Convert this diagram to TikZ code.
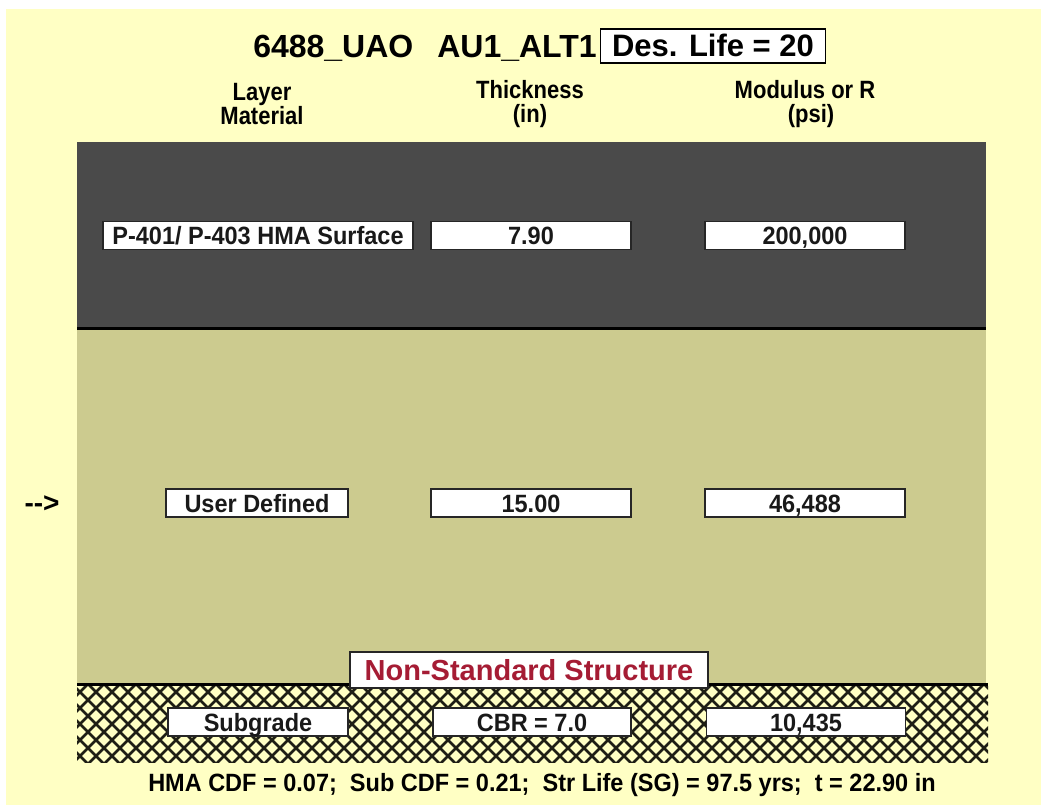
\documentclass[tikz,border=0pt]{standalone}
\usepackage{fontspec}
\setmainfont{Liberation Sans}
\newfontfamily\narrow[FakeStretch=0.94]{Liberation Sans}
\newfontfamily\hnarrow[FakeStretch=0.88]{Liberation Sans}
\definecolor{bgyellow}{RGB}{255,255,196}
\definecolor{darklayer}{RGB}{74,74,74}
\definecolor{khaki}{RGB}{204,203,143}
\definecolor{redtxt}{RGB}{165,28,52}
\definecolor{hatchc}{RGB}{30,30,20}
\tikzset{
  valbox/.style={draw=black!85, line width=1.5pt, fill=white, minimum height=28pt, inner sep=0pt,
    text height=18pt, text depth=0pt,
    font=\narrow\bfseries\fontsize{25}{25}\selectfont, text=black!90},
  hdr/.style={align=center, font=\hnarrow\bfseries\fontsize{25}{24}\selectfont},
  hatchline/.style={draw=hatchc, line width=2.6pt},
  sepline/.style={line width=3pt, draw=black}
}
\begin{document}
\begin{tikzpicture}[x=1pt,y=-1pt]
\useasboundingbox (0,0) rectangle (1041,805);
\fill[white] (0,0) rectangle (1041,805);
\fill[bgyellow] (6,9) rectangle (1041,805);
% layers
\fill[darklayer] (77,142) rectangle (986,328);
\fill[khaki] (77,328) rectangle (986,683);
\begin{scope}
  \clip (77,684) rectangle (988,762);
  \foreach \i in {-120,-104,...,1120} {
    \draw[hatchline] (\i,684) -- ++(100,100);
    \draw[hatchline] (\i,684) -- ++(-100,100);
  }
\end{scope}
\draw[sepline] (77,328) -- (986,328);
\draw[sepline] (77,684) -- (988,684);
% title
\node[anchor=east, font=\bfseries\fontsize{32}{32}\selectfont, inner sep=0pt,
  text height=23pt, text depth=0pt] (title) at (597,46) {6488\_UAO\hspace{24pt}AU1\_ALT1};
\node[draw=black, line width=1.5pt, fill=white, minimum width=225pt, minimum height=34pt, inner sep=0pt,
  text height=22pt, text depth=0pt,
  font=\bfseries\fontsize{31}{31}\selectfont] (life) at (713,46) {Des. Life = 20};
% headers
\node[hdr] (h1) at (262,104) {Layer\\Material};
\node[hdr] (h2) at (530,104) {Thickness\\(in)};
\node[hdr] (h3) at (805,104) {Modulus or R\\\hspace*{12pt}(psi)};
% row 1
\node[valbox, minimum width=310pt] (m1) at (258,235.5) {P-401/ P-403 HMA Surface};
\node[valbox, minimum width=200pt] (t1) at (531,235.5) {7.90};
\node[valbox, minimum width=200pt] (e1) at (805,235.5) {200,000};
% row 2
\node[font=\bfseries\fontsize{28}{28}\selectfont, text height=14pt, text depth=0pt] (arr) at (42,505) {-{}->};
\node[valbox, minimum width=182pt] (m2) at (257,503) {User Defined};
\node[valbox, minimum width=200pt] (t2) at (531,503) {15.00};
\node[valbox, minimum width=200pt] (e2) at (805,503) {46,488};
% non-standard
\node[draw=black!85, line width=1.5pt, fill=white, minimum width=358pt, minimum height=36pt, inner sep=0pt,
  text height=21pt, text depth=0pt,
  text=redtxt, font=\bfseries\fontsize{29}{29}\selectfont] (ns) at (529,670) {Non-Standard Structure};
% row 3
\node[valbox, minimum width=180pt] (m3) at (258,722) {Subgrade};
\node[valbox, minimum width=198pt] (t3) at (532,722) {CBR = 7.0};
\node[valbox, minimum width=199pt] (e3) at (806,722) {10,435};
% bottom
\node[font=\narrow\bfseries\fontsize{25}{25}\selectfont, text height=18pt, text depth=0pt] (sum) at (542,782)
  {HMA CDF = 0.07;\ \ Sub CDF = 0.21;\ \ Str Life (SG) = 97.5 yrs;\ \ t = 22.90 in};
\end{tikzpicture}
\end{document}
